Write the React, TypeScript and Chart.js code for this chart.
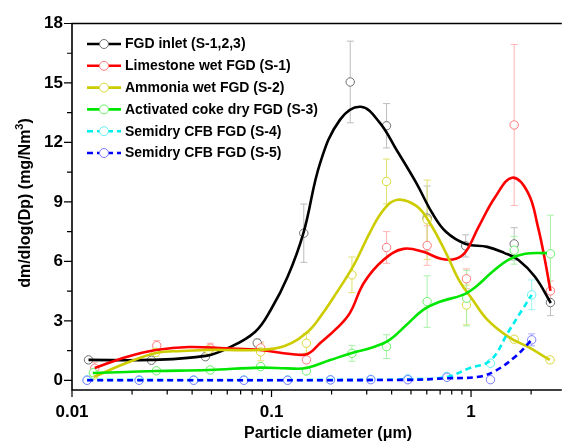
import React, { useEffect, useRef } from 'react';
import { Chart, registerables } from 'chart.js';

Chart.register(...registerables);

const FONT = '"Liberation Sans", Arial, Helvetica, sans-serif';

// ---------- axis ticks ----------
const xTickValues = [0.01, 0.1, 1];
const xTickLabels = ['0.01', '0.1', '1'];
const yTickValues = [0, 3, 6, 9, 12, 15, 18];
const yTickLabels = ['0', '3', '6', '9', '12', '15', '18'];

// ---------- measured points (diameter in µm, dm/dlog(Dp) in mg/Nm3, error) ----------
const inletDp = [0.0121, 0.025, 0.0466, 0.0848, 0.1451, 0.248, 0.377, 0.6025, 0.94, 1.645, 2.5];
const inletMass = [1.03, 1.01, 1.19, 1.88, 7.42, 15.05, 12.84, 8.18, 6.78, 6.88, 3.92];
const inletErr = [0, 0, 0, 0.2, 1.47, 2.06, 1.12, 1.62, 0.56, 0.82, 0.66];

const limeDp = [0.013, 0.0266, 0.0493, 0.0882, 0.1496, 0.377, 0.6025, 0.948, 1.645, 2.5];
const limeMass = [0.61, 1.75, 1.62, 1.63, 1.03, 6.7, 6.8, 5.12, 12.88, 4.51];
const limeErr = [0.3, 0.25, 0.25, 0.3, 0.15, 0.8, 1.0, 0.5, 4.06, 0.5];

const ammDp = [0.0129, 0.0263, 0.0483, 0.0882, 0.1496, 0.253, 0.377, 0.6025, 0.948, 1.645, 2.49];
const ammMass = [0.27, 1.41, 1.53, 1.43, 1.87, 5.32, 10.03, 8.1, 3.8, 2.07, 1.03];
const ammErr = [0.15, 0.2, 0.15, 0.45, 0.5, 0.9, 1.13, 2.0, 1.0, 0.05, 0.05];

const cokeDp = [0.0128, 0.0265, 0.0493, 0.0882, 0.1496, 0.253, 0.377, 0.6025, 0.951, 1.645, 2.5];
const cokeMass = [0.38, 0.48, 0.52, 0.69, 0.47, 1.36, 1.7, 3.97, 4.14, 6.56, 6.38];
const cokeErr = [0.1, 0.1, 0.1, 0.1, 0.1, 0.4, 0.6, 1.3, 1.4, 0.7, 1.95];

const semiDp = [0.0119, 0.0217, 0.0407, 0.0727, 0.1204, 0.1975, 0.3144, 0.4822, 0.7568, 1.251, 2.013];
const cfb4Mass = [0.02, 0.02, 0.02, 0.02, 0.02, 0.03, 0.05, 0.08, 0.2, 0.86, 4.31];
const cfb4Err = [0.05, 0.05, 0.05, 0.05, 0.05, 0.05, 0.05, 0.05, 0.1, 0.1, 0.75];
const cfb5Mass = [0, 0, 0, 0, 0, 0.02, 0.03, 0.03, 0.15, 0.03, 2.04];
const cfb5Err = [0.1, 0.1, 0.1, 0.1, 0.1, 0.1, 0.1, 0.1, 0.1, 0.1, 0.3];

// ---------- fitted curves ----------
const inletFitDp = [0.0121, 0.0249, 0.0467, 0.0607, 0.0826, 0.0992, 0.1204, 0.1446, 0.1755, 0.2206, 0.2804, 0.3484, 0.4228, 0.5313, 0.6377, 0.7484, 0.94, 1.206, 1.464, 1.722, 2.091, 2.51];
const inletFit = [1.03, 1.03, 1.23, 1.63, 2.44, 3.56, 5.22, 7.44, 10.98, 13.15, 13.8, 13.0, 11.63, 9.96, 8.45, 7.49, 6.88, 6.73, 6.43, 6.08, 5.22, 3.9];

const limeFitDp = [0.013, 0.01874, 0.02638, 0.03846, 0.05869, 0.0875, 0.1246, 0.1514, 0.1755, 0.2132, 0.2472, 0.2901, 0.3645, 0.4581, 0.5754, 0.7068, 0.8389, 0.94, 1.091, 1.324, 1.608, 1.931, 2.164, 2.344, 2.5];
const limeFit = [0.62, 1.18, 1.53, 1.68, 1.61, 1.53, 1.33, 1.33, 1.88, 2.64, 3.4, 4.91, 6.08, 6.63, 6.48, 6.13, 6.13, 6.48, 7.74, 9.26, 10.22, 9.46, 7.74, 6.08, 4.51];

const ammFitDp = [0.01286, 0.01874, 0.02638, 0.03552, 0.04671, 0.05869, 0.08552, 0.1164, 0.1514, 0.1755, 0.2132, 0.2588, 0.3107, 0.3645, 0.4276, 0.5313, 0.6163, 0.7484, 0.868, 1.018, 1.206, 1.539, 1.931, 2.481];
const ammFit = [0.17, 0.87, 1.38, 1.48, 1.53, 1.53, 1.53, 1.73, 2.44, 3.2, 4.46, 5.82, 7.44, 8.6, 9.11, 8.8, 8.0, 6.43, 5.07, 4.06, 3.06, 2.19, 1.68, 1.03];

const cokeFitDp = [0.01271, 0.01874, 0.02638, 0.04833, 0.0885, 0.1204, 0.1496, 0.1968, 0.253, 0.3252, 0.3904, 0.474, 0.5754, 0.6909, 0.9087, 1.054, 1.28, 1.536, 1.866, 2.4];
const cokeFit = [0.37, 0.42, 0.47, 0.52, 0.64, 0.6, 0.62, 1.02, 1.38, 1.68, 2.04, 2.79, 3.55, 3.95, 4.31, 4.71, 5.47, 6.08, 6.38, 6.42];

const cfb4FitDp = [0.0119, 0.1975, 0.4822, 0.7568, 0.9727, 1.251, 1.539, 1.803, 2.013];
const cfb4Fit = [0.02, 0.02, 0.05, 0.17, 0.6, 1.0, 2.45, 3.55, 4.31];

const cfb5FitDp = [0.0119, 0.4822, 0.7568, 1.091, 1.324, 1.664, 2.013];
const cfb5Fit = [0, 0.02, 0.1, 0.18, 0.48, 1.19, 2.04];

// ---------- series ----------
type Series = {
  label: string; dp: number[]; mass: number[]; err: number[];
  fitDp: number[]; fit: number[];
  line: string; marker: string; errColor: string; dashed: boolean;
};

const series: Series[] = [
  { label: 'FGD inlet (S-1,2,3)', dp: inletDp, mass: inletMass, err: inletErr, fitDp: inletFitDp, fit: inletFit, line: '#000000', marker: '#6e6e6e', errColor: '#bdbdbd', dashed: false },
  { label: 'Limestone wet FGD (S-1)', dp: limeDp, mass: limeMass, err: limeErr, fitDp: limeFitDp, fit: limeFit, line: '#ff0000', marker: '#ff7a7a', errColor: '#ffb4b4', dashed: false },
  { label: 'Ammonia wet FGD (S-2)', dp: ammDp, mass: ammMass, err: ammErr, fitDp: ammFitDp, fit: ammFit, line: '#cccc00', marker: '#d8d83c', errColor: '#e2e270', dashed: false },
  { label: 'Activated coke dry FGD (S-3)', dp: cokeDp, mass: cokeMass, err: cokeErr, fitDp: cokeFitDp, fit: cokeFit, line: '#00e600', marker: '#6cee6c', errColor: '#aaf2aa', dashed: false },
  { label: 'Semidry CFB FGD (S-4)', dp: semiDp, mass: cfb4Mass, err: cfb4Err, fitDp: cfb4FitDp, fit: cfb4Fit, line: '#00eeee', marker: '#66f0f0', errColor: '#9ef2f2', dashed: true },
  { label: 'Semidry CFB FGD (S-5)', dp: semiDp, mass: cfb5Mass, err: cfb5Err, fitDp: cfb5FitDp, fit: cfb5Fit, line: '#0000ff', marker: '#7a7aff', errColor: '#aaaaff', dashed: true },
];

const DASH = [6, 4];

function buildDatasets() {
  const n = series.length;
  const points = series.map((s, i) => ({
    type: 'scatter' as const,
    label: s.label + ' data',
    data: s.dp.map((d, j) => ({ x: d, y: s.mass[j] })),
    errors: s.err,
    errorColor: s.errColor,
    showLine: false,
    pointRadius: 4.2,
    pointBorderWidth: 1,
    pointBorderColor: s.marker,
    pointBackgroundColor: '#ffffff',
    order: 20 + (n - i),
  }));
  const curves = series.map((s, i) => ({
    type: 'scatter' as const,
    label: s.label,
    data: s.fitDp.map((d, j) => ({ x: d, y: s.fit[j] })),
    showLine: true,
    pointRadius: 0,
    borderColor: s.line,
    borderWidth: 2.6,
    borderDash: s.dashed ? DASH : [],
    tension: 0.4,
    fill: false,
    order: n - i,
  }));
  return [...points, ...curves];
}

const errorBarPlugin = {
  id: 'errorBars',
  beforeDatasetsDraw(chart: any) {
    const ctx = chart.ctx;
    const { x, y } = chart.scales;
    chart.data.datasets.forEach((ds: any) => {
      if (!ds.errors) return;
      ctx.save();
      ctx.strokeStyle = ds.errorColor;
      ctx.lineWidth = 1;
      ds.data.forEach((pt: any, j: number) => {
        const e = ds.errors[j];
        if (!e) return;
        const px = x.getPixelForValue(pt.x);
        const top = y.getPixelForValue(pt.y + e);
        const bot = y.getPixelForValue(pt.y - e);
        ctx.beginPath();
        ctx.moveTo(px, top); ctx.lineTo(px, bot);
        ctx.moveTo(px - 3.5, top); ctx.lineTo(px + 3.5, top);
        ctx.moveTo(px - 3.5, bot); ctx.lineTo(px + 3.5, bot);
        ctx.stroke();
      });
      ctx.restore();
    });
  },
};

const overlayPlugin = {
  id: 'overlay',
  afterDraw(chart: any) {
    const ctx = chart.ctx;
    const a = chart.chartArea;
    const { x, y } = chart.scales;
    ctx.save();
    // frame
    ctx.strokeStyle = '#000';
    ctx.lineWidth = 1.6;
    ctx.beginPath();
    ctx.moveTo(a.right, a.top); ctx.lineTo(a.left, a.top);
    ctx.lineTo(a.left, a.bottom); ctx.lineTo(a.right, a.bottom);
    ctx.stroke();
    // y ticks (major + minor)
    ctx.lineWidth = 1.2;
    ctx.beginPath();
    for (let k = 0; k < yTickValues.length; k++) {
      const v = yTickValues[k];
      const p = y.getPixelForValue(v);
      ctx.moveTo(a.left - 8, p); ctx.lineTo(a.left, p);
      if (k < yTickValues.length - 1) {
        const m = y.getPixelForValue((v + yTickValues[k + 1]) / 2);
        ctx.moveTo(a.left - 5, m); ctx.lineTo(a.left, m);
      }
    }
    // x ticks (decades + minor 2..9)
    for (const d of xTickValues) {
      for (let k = 1; k <= 9; k++) {
        const v = d * k;
        if (v > x.max) break;
        const p = x.getPixelForValue(v);
        const len = k === 1 ? 7 : 4.5;
        ctx.moveTo(p, a.bottom); ctx.lineTo(p, a.bottom + len);
      }
    }
    ctx.stroke();

    // axis titles
    ctx.fillStyle = '#000';
    ctx.font = `bold 16px ${FONT}`;
    ctx.textAlign = 'center';
    ctx.textBaseline = 'alphabetic';
    ctx.fillText('Particle diameter (\u03bcm)', 328, 438);

    // y title with superscript
    const main = 'dm/dlog(Dp) (mg/Nm';
    const sup = '3';
    const tail = ')';
    ctx.font = `bold 16px ${FONT}`;
    const wMain = ctx.measureText(main).width;
    const wTail = ctx.measureText(tail).width;
    ctx.font = `bold 11px ${FONT}`;
    const wSup = ctx.measureText(sup).width;
    const total = wMain + wSup + wTail;
    ctx.save();
    ctx.translate(30, 203);
    ctx.rotate(-Math.PI / 2);
    ctx.textAlign = 'left';
    ctx.font = `bold 16px ${FONT}`;
    let cx = -total / 2;
    ctx.fillText(main, cx, 0);
    cx += wMain;
    ctx.font = `bold 11px ${FONT}`;
    ctx.fillText(sup, cx, -7);
    cx += wSup;
    ctx.font = `bold 16px ${FONT}`;
    ctx.fillText(tail, cx, 0);
    ctx.restore();

    // legend
    const top = 44;
    const step = 21.8;
    series.forEach((s, i) => {
      const yy = top + i * step;
      ctx.save();
      ctx.strokeStyle = s.line;
      ctx.lineWidth = 2.6;
      ctx.setLineDash(s.dashed ? DASH : []);
      ctx.beginPath();
      ctx.moveTo(87, yy); ctx.lineTo(121, yy);
      ctx.stroke();
      ctx.setLineDash([]);
      ctx.beginPath();
      ctx.arc(104, yy, 4.5, 0, Math.PI * 2);
      ctx.fillStyle = '#fff';
      ctx.fill();
      ctx.lineWidth = 1;
      ctx.strokeStyle = s.marker;
      ctx.stroke();
      ctx.fillStyle = '#000';
      ctx.font = `bold 14px ${FONT}`;
      ctx.textAlign = 'left';
      ctx.textBaseline = 'middle';
      ctx.fillText(s.label, 125, yy + 0.5);
      ctx.restore();
    });
    ctx.restore();
  },
};

export default function App() {
  const ref = useRef<HTMLCanvasElement>(null);
  useEffect(() => {
    if (!ref.current) return;
    const chart = new Chart(ref.current, {
      type: 'scatter',
      data: { datasets: buildDatasets() as any },
      options: {
        responsive: false,
        animation: false,
        devicePixelRatio: 1,
        layout: { padding: { top: 23.5, left: 0, right: 0, bottom: 0 } },
        plugins: { legend: { display: false }, tooltip: { enabled: false } },
        scales: {
          x: {
            type: 'logarithmic',
            min: 0.01,
            max: 2.85,
            grid: { display: false, drawTicks: false, tickLength: 0 },
            border: { display: false },
            afterBuildTicks: (s: any) => { s.ticks = xTickValues.map((v) => ({ value: v })); },
            ticks: {
              autoSkip: false, maxRotation: 0, padding: 12, color: '#000',
              font: { family: FONT, size: 17, weight: 'bold' },
              callback: (_v: any, i: number) => xTickLabels[i],
            },
            afterFit: (s: any) => { s.height = 52; },
          },
          y: {
            type: 'linear',
            min: -0.49,
            max: 18,
            grid: { display: false, drawTicks: false, tickLength: 0 },
            border: { display: false },
            afterBuildTicks: (s: any) => { s.ticks = yTickValues.map((v) => ({ value: v })); },
            ticks: {
              autoSkip: false, padding: 9, color: '#000',
              font: { family: FONT, size: 17, weight: 'bold' },
              callback: (_v: any, i: number) => yTickLabels[i],
            },
            afterFit: (s: any) => { s.width = 72; },
          },
        },
      } as any,
      plugins: [errorBarPlugin, overlayPlugin],
    });
    return () => chart.destroy();
  }, []);
  return (
    <div style={{ position: 'absolute', left: 0, top: 0, width: 567, height: 442, background: '#fff' }}>
      <canvas ref={ref} width={567} height={442} style={{ display: 'block' }} />
    </div>
  );
}
